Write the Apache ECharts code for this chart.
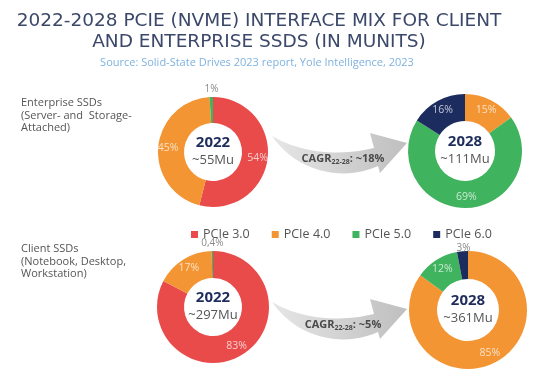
<!DOCTYPE html>
<html>
<head>
<meta charset="utf-8">
<script src="https://cdn.jsdelivr.net/npm/echarts@6/dist/echarts.min.js"></script>
<style>
html,body{margin:0;padding:0;background:#fff;}
#chart{width:555px;height:384px;}
</style>
</head>
<body>
<div id="chart"></div>
<script>
// ---- Data ----
const titleLines = ['2022-2028 PCIE (NVME) INTERFACE MIX FOR CLIENT', 'AND ENTERPRISE SSDS (IN MUNITS)'];
const sourceText = 'Source: Solid-State Drives 2023 report, Yole Intelligence, 2023';
const interfaces = ['PCIe 3.0', 'PCIe 4.0', 'PCIe 5.0', 'PCIe 6.0'];
const interfaceColors = ['#e94b4b', '#f39532', '#3fb35e', '#1d2c5e'];

const segmentLabels = [['Enterprise SSDs', '(Server- and  Storage-', 'Attached)'],
                       ['Client SSDs', '(Notebook, Desktop,', 'Workstation)']];
const years = ['2022', '2028'];
const enterpriseTotals = ['~55Mu', '~111Mu'];
const clientTotals = ['~297Mu', '~361Mu'];
const cagrValues = ['~18%', '~5%'];

const ent2022Names = ['PCIe 3.0', 'PCIe 4.0', 'PCIe 5.0'];
const ent2022Values = [54, 45, 1];
const ent2028Names = ['PCIe 4.0', 'PCIe 5.0', 'PCIe 6.0'];
const ent2028Values = [15, 69, 16];
const cli2022Names = ['PCIe 3.0', 'PCIe 4.0', 'PCIe 5.0'];
const cli2022Values = [83, 17, 0.4];
const cli2028Names = ['PCIe 4.0', 'PCIe 5.0', 'PCIe 6.0'];
const cli2028Values = [85, 12, 3];

// ---- Layout ----
const pies = [
  {names: ent2022Names, values: ent2022Values, c: [213, 152], r: 55, year: years[0], total: enterpriseTotals[0]},
  {names: ent2028Names, values: ent2028Values, c: [465, 151], r: 57, year: years[1], total: enterpriseTotals[1]},
  {names: cli2022Names, values: cli2022Values, c: [213, 307], r: 56, year: years[0], total: clientTotals[0]},
  {names: cli2028Names, values: cli2028Values, c: [468, 310], r: 59, year: years[1], total: clientTotals[1]}
];

const FONT = "'Open Sans', 'DejaVu Sans', sans-serif";
const fmt = v => String(v).replace('.', ',') + '%';

const series = pies.map(p => {
  const ri = Math.round(p.r * 0.52);
  return {
    type: 'pie',
    center: p.c,
    radius: [ri, p.r],
    startAngle: 90,
    clockwise: true,
    avoidLabelOverlap: false,
    silent: true,
    label: {
      show: true, position: 'inside', color: 'rgba(255,255,255,0.72)',
      fontSize: 10.5, fontFamily: FONT,
      formatter: d => fmt(d.value)
    },
    labelLine: {show: false},
    data: p.names.map((n, i) => {
      const item = {
        name: n, value: p.values[i],
        itemStyle: {color: interfaceColors[interfaces.indexOf(n)]}
      };
      if (p.values[i] < 5) {
        const k = p.values[i] < 2 ? 5 : 0;
        item.label = {color: '#8a8a8a', fontSize: 10, offset: [0, -((p.r - ri) / 2 + k)]};
      }
      return item;
    })
  };
});

function bez(p0, p1, p2, p3, n) {
  const out = [];
  for (let i = 0; i <= n; i++) {
    const t = i / n, u = 1 - t;
    out.push([u*u*u*p0[0] + 3*u*u*t*p1[0] + 3*u*t*t*p2[0] + t*t*t*p3[0],
              u*u*u*p0[1] + 3*u*u*t*p1[1] + 3*u*t*t*p2[1] + t*t*t*p3[1]]);
  }
  return out;
}
function arrowPoints(ox, oy) {
  let pts = bez([0, 0], [30, 18], [70, 20], [102, 12], 20);
  pts = pts.concat([[98, -3], [135, 7], [108, 37]]);
  pts = pts.concat(bez([106, 30], [70, 46], [25, 36], [0, 0], 20));
  return pts.map(q => [q[0] + ox, q[1] + oy]);
}

const graphics = [];
titleLines.forEach((t, i) => graphics.push({
  type: 'text', x: 259, y: 21 + i * 21,
  style: {text: t, fill: '#3b486a', font: "18.5px 'DejaVu Sans', sans-serif", textAlign: 'center', textVerticalAlign: 'middle'}
}));
graphics.push({
  type: 'text', x: 257, y: 63,
  style: {text: sourceText, fill: '#7fb2df', font: '11px ' + FONT, textAlign: 'center', textVerticalAlign: 'middle'}
});
segmentLabels.forEach((lines, k) => lines.forEach((t, i) => graphics.push({
  type: 'text', x: 21, y: (k === 0 ? 103 : 249) + i * 12.5,
  style: {text: t, fill: '#555', font: '11px ' + FONT, textAlign: 'left', textVerticalAlign: 'middle'}
})));
pies.forEach(p => {
  graphics.push({
    type: 'text', x: p.c[0], y: p.c[1] - 9, z: 10,
    style: {text: p.year, fill: '#1f2d5c', font: "bold 15px " + FONT, textAlign: 'center', textVerticalAlign: 'middle'}
  });
  graphics.push({
    type: 'text', x: p.c[0], y: p.c[1] + 8, z: 10,
    style: {text: p.total, fill: '#555', font: '13px ' + FONT, textAlign: 'center', textVerticalAlign: 'middle'}
  });
});
[[272, 136], [272, 302]].forEach((o, k) => {
  graphics.push({
    type: 'polygon', z: -1,
    shape: {points: arrowPoints(o[0], o[1])},
    style: {fill: {type: 'linear', x: 0, y: 0, x2: 1, y2: 0, colorStops: [{offset: 0, color: '#e6e6e6'}, {offset: 1, color: '#bfbfbf'}]}}
  });
  graphics.push({
    type: 'text', x: 343, y: o[1] + 23,
    style: {
      text: '{b|CAGR}{s|22-28}{b|: ' + cagrValues[k] + '}',
      textAlign: 'center', textVerticalAlign: 'middle',
      rich: {
        b: {fontSize: 11, fontWeight: 'bold', fill: '#4a4a4a', fontFamily: FONT, lineHeight: 13},
        s: {fontSize: 7, fontWeight: 'bold', fill: '#4a4a4a', fontFamily: FONT, padding: [5, 0, 0, 0]}
      }
    }
  });
});

const chart = echarts.init(document.getElementById('chart'));
chart.setOption({
  animation: false,
  legend: {
    data: interfaces, left: 186, top: 223, icon: 'rect', itemWidth: 7, itemHeight: 7, itemGap: 22,
    textStyle: {fontSize: 12.5, color: '#555', fontFamily: FONT}, selectedMode: false
  },
  graphic: graphics,
  series: series
});
</script>
</body>
</html>
